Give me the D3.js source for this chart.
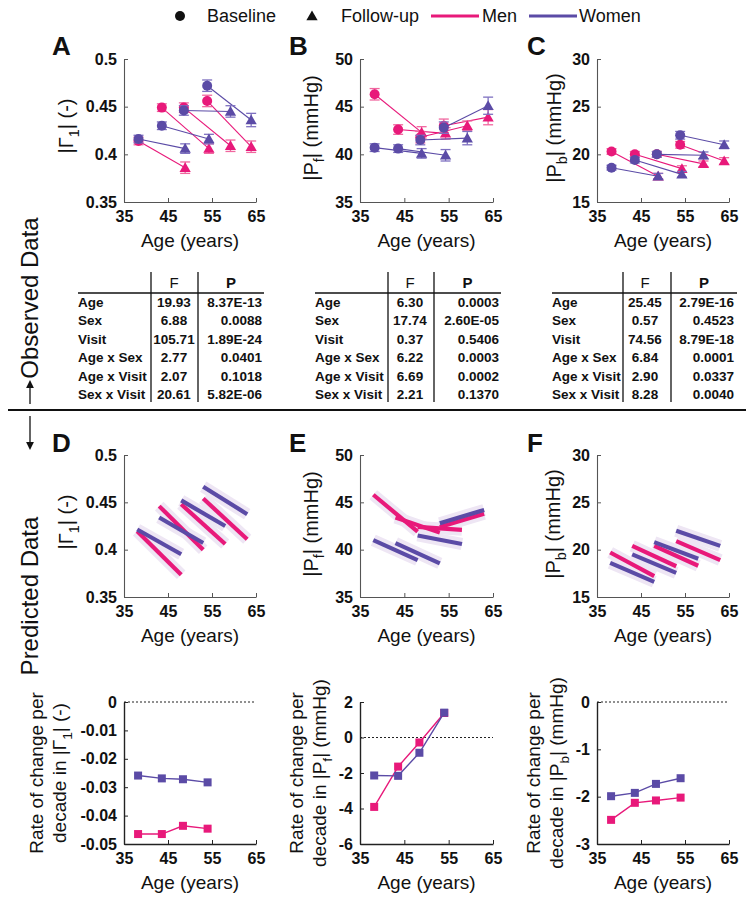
<!DOCTYPE html>
<html><head><meta charset="utf-8">
<script src="https://cdn.jsdelivr.net/npm/d3@7"></script>
<style>body{margin:0;background:#fff} svg{display:block} text{font-family:"Liberation Sans",Arial,sans-serif;fill:#111}</style>
</head><body><svg id="c" width="750" height="900"></svg>
<script>
// ---------- DATA ----------
const baseAge = [38.3, 43.6, 48.6, 53.9];
const fuAge   = [48.9, 54.3, 59.2, 63.9];

// Panel A  |Γ1|
const A_menBase = [0.414, 0.449, 0.449, 0.456];
const A_menFu   = [0.386, 0.406, 0.409, 0.408];
const A_womBase = [0.416, 0.430, 0.446, 0.472];
const A_womFu   = [0.406, 0.416, 0.445, 0.436];
const A_menBaseErr = [0.004, 0.004, 0.005, 0.006];
const A_menFuErr   = [0.006, 0.005, 0.006, 0.006];
const A_womBaseErr = [0.004, 0.004, 0.005, 0.006];
const A_womFuErr   = [0.005, 0.005, 0.006, 0.007];

// Panel B  |Pf|
const B_menBase = [46.3, 42.6, 41.8, 43.0];
const B_menFu   = [42.3, 42.2, 43.0, 43.9];
const B_womBase = [40.7, 40.6, 41.5, 42.8];
const B_womFu   = [40.1, 39.9, 41.7, 45.1];
const B_menBaseErr = [0.6, 0.5, 0.6, 0.7];
const B_menFuErr   = [0.6, 0.6, 0.5, 0.8];
const B_womBaseErr = [0.4, 0.4, 0.5, 0.6];
const B_womFuErr   = [0.5, 0.6, 0.7, 0.9];

// Panel C  |Pb|
const C_menBase = [20.3, 20.0, 20.0, 21.0];
const C_menFu   = [17.7, 18.5, 19.0, 19.3];
const C_womBase = [18.6, 19.4, 20.0, 22.0];
const C_womFu   = [17.7, 17.9, 19.9, 21.0];
const C_menBaseErr = [0.3, 0.3, 0.3, 0.35];
const C_menFuErr   = [0.3, 0.3, 0.3, 0.35];
const C_womBaseErr = [0.25, 0.3, 0.3, 0.4];
const C_womFuErr   = [0.3, 0.3, 0.35, 0.4];

// Predicted lines (D, E, F)
const predStart = [38, 43, 48, 53];
const predEnd   = [48, 53, 58, 63];
const D_menStart = [0.4195, 0.446, 0.448, 0.454];
const D_menEnd   = [0.3735, 0.400, 0.406, 0.411];
const D_womStart = [0.4213, 0.434, 0.452, 0.4665];
const D_womEnd   = [0.3952, 0.407, 0.425, 0.4375];
const E_menStart = [45.8, 43.4, 42.4, 42.4];
const E_menEnd   = [41.9, 41.8, 42.1, 43.8];
const E_womStart = [41.0, 40.7, 41.5, 42.8];
const E_womEnd   = [38.9, 38.55, 40.6, 44.2];
const F_menStart = [19.7, 20.4, 20.4, 20.9];
const F_menEnd   = [17.2, 18.25, 18.3, 18.9];
const F_womStart = [18.6, 19.5, 20.8, 22.0];
const F_womEnd   = [16.6, 17.55, 19.05, 20.4];

// Rates of change per decade
const rateAge = [38.2, 43.6, 48.4, 54.0];
const G_men = [-0.0465, -0.0465, -0.0436, -0.0446];
const G_wom = [-0.0259, -0.0269, -0.0272, -0.0283];
const H_men = [-3.91, -1.64, -0.28, 1.38];
const H_wom = [-2.14, -2.16, -0.86, 1.40];
const I_men = [-2.49, -2.13, -2.08, -2.02];
const I_wom = [-1.99, -1.92, -1.73, -1.61];

// Tick labels
const xTicks = [35, 45, 55, 65];
const ticksA = [0.35, 0.4, 0.45, 0.5];
const ticksB = [35, 40, 45, 50];
const ticksC = [15, 20, 25, 30];
const ticksG = [-0.05, -0.04, -0.03, -0.02, -0.01, 0];
const ticksH = [-6, -4, -2, 0, 2];
const ticksI = [-3, -2, -1, 0];

// Tables
const tableRows = ["Age", "Sex", "Visit", "Age x Sex", "Age x Visit", "Sex x Visit"];
const tA_F = ["19.93", "6.88", "105.71", "2.77", "2.07", "20.61"];
const tA_P = ["8.37E-13", "0.0088", "1.89E-24", "0.0401", "0.1018", "5.82E-06"];
const tB_F = ["6.30", "17.74", "0.37", "6.22", "6.69", "2.21"];
const tB_P = ["0.0003", "2.60E-05", "0.5406", "0.0003", "0.0002", "0.1370"];
const tC_F = ["25.45", "0.57", "74.56", "6.84", "2.90", "8.28"];
const tC_P = ["2.79E-16", "0.4523", "8.79E-18", "0.0001", "0.0337", "0.0040"];

// ---------- STYLE / LAYOUT ----------
const MEN = "#E8197A", WOMEN = "#5B4BA6";
const MEN_ERR = "#F0679F", WOM_ERR = "#7E70C0";
const cols = [{x0:124, x1:256}, {x0:360, x1:493}, {x0:597, x1:729}];
const rows = [{top:59, bot:202}, {top:455, bot:597}, {top:702, bot:844}];

const svg = d3.select("#c");
svg.append("rect").attr("width",750).attr("height",900).attr("fill","#fff");

function makeAxes(ci, ri, yDom, yTicks, darkAxis) {
  const c = cols[ci], r = rows[ri];
  const x = d3.scaleLinear().domain([35,65]).range([c.x0, c.x1]);
  const y = d3.scaleLinear().domain(yDom).range([r.bot, r.top]);
  const g = svg.append("g");
  const col = darkAxis ? "#222" : "#555";
  const ax = g.append("g").attr("transform",`translate(0,${r.bot})`)
    .call(d3.axisBottom(x).tickValues(xTicks).tickSize(-4).tickSizeOuter(0).tickPadding(9).tickFormat(d=>String(d)));
  const ay = g.append("g").attr("transform",`translate(${c.x0},0)`)
    .call(d3.axisLeft(y).tickValues(yTicks).tickSize(-4).tickSizeOuter(0).tickPadding(7).tickFormat(d=>String(d)));
  [ax, ay].forEach(a=>{
    a.select(".domain").attr("stroke",col).attr("stroke-width", darkAxis?1.4:1.1);
    a.selectAll(".tick line").attr("stroke",col);
    a.selectAll(".tick text").attr("font-size",16).attr("font-weight","bold").attr("fill","#111")
      .style("font-family","'Liberation Sans',Arial,sans-serif");
  });
  g.append("text").attr("x",(c.x0+c.x1)/2).attr("y",r.bot+45).attr("text-anchor","middle")
    .attr("font-size",19).text("Age (years)");
  return {x, y, g};
}

function rotLabel(x, y, lines, fs) {
  lines.forEach((segs, li) => {
    const t = svg.append("text").attr("transform",`translate(${x + li*23},${y}) rotate(-90)`)
      .attr("text-anchor","middle").attr("font-size",fs);
    segs.forEach(s => {
      const ts = t.append("tspan").text(s.t);
      if (s.sub) ts.attr("dy", fs*0.3).attr("font-size", fs*0.72);
      if (s.back) ts.attr("dy", -fs*0.3);
    });
  });
}
function panelLetter(x, y, L) {
  svg.append("text").attr("x",x).attr("y",y).attr("font-size",26).attr("font-weight","bold").text(L);
}

const triangle = d3.symbol().type(d3.symbolTriangle).size(55);

function observed(ax, mB, mF, wB, wF, mBe, mFe, wBe, wFe) {
  const {x, y, g} = ax;
  const series = [
    {b:mB, f:mF, be:mBe, fe:mFe, c:MEN, ec:MEN_ERR},
    {b:wB, f:wF, be:wBe, fe:wFe, c:WOMEN, ec:WOM_ERR}
  ];
  series.forEach(s => {
    const sg = g.append("g");
    baseAge.forEach((a,i) => {
      sg.append("line").attr("x1",x(a)).attr("y1",y(s.b[i])).attr("x2",x(fuAge[i])).attr("y2",y(s.f[i]))
        .attr("stroke",s.c).attr("stroke-width",1.1);
    });
    const eb = (a, v, e) => {
      sg.append("line").attr("x1",x(a)).attr("x2",x(a)).attr("y1",y(v-e)).attr("y2",y(v+e)).attr("stroke",s.ec).attr("stroke-width",1.3);
      [v-e, v+e].forEach(vv => sg.append("line").attr("x1",x(a)-5).attr("x2",x(a)+5).attr("y1",y(vv)).attr("y2",y(vv)).attr("stroke",s.ec).attr("stroke-width",1.3));
    };
    baseAge.forEach((a,i) => eb(a, s.b[i], s.be[i]));
    fuAge.forEach((a,i) => eb(a, s.f[i], s.fe[i]));
    baseAge.forEach((a,i) => sg.append("circle").attr("cx",x(a)).attr("cy",y(s.b[i])).attr("r",5).attr("fill",s.c));
    fuAge.forEach((a,i) => sg.append("path").attr("d",triangle).attr("transform",`translate(${x(a)},${y(s.f[i])+1})`).attr("fill",s.c));
  });
}

function predicted(ax, mS, mE, wS, wE) {
  const {x, y, g} = ax;
  const band = g.append("g"), lines = g.append("g");
  [[mS,mE,MEN],[wS,wE,WOMEN]].forEach(([s,e]) => {
    predStart.forEach((a,i) => band.append("line").attr("x1",x(a)).attr("y1",y(s[i])).attr("x2",x(predEnd[i])).attr("y2",y(e[i]))
      .attr("stroke","#EEE6F4").attr("stroke-width",12).attr("stroke-linecap","butt"));
  });
  [[mS,mE,MEN],[wS,wE,WOMEN]].forEach(([s,e,c]) => {
    predStart.forEach((a,i) => lines.append("line").attr("x1",x(a)).attr("y1",y(s[i])).attr("x2",x(predEnd[i])).attr("y2",y(e[i]))
      .attr("stroke",c).attr("stroke-width",4.2));
  });
}

function rates(ax, men, wom) {
  const {x, y, g} = ax;
  g.append("line").attr("x1",x(35)).attr("x2",x(65)).attr("y1",y(0)).attr("y2",y(0))
    .attr("stroke","#222").attr("stroke-width",1.2).attr("stroke-dasharray","2,2");
  [[men,MEN],[wom,WOMEN]].forEach(([v,c]) => {
    const line = d3.line().x((d,i)=>x(rateAge[i])).y(d=>y(d));
    g.append("path").attr("d",line(v)).attr("fill","none").attr("stroke",c).attr("stroke-width",1.4);
    v.forEach((d,i)=>g.append("rect").attr("x",x(rateAge[i])-4).attr("y",y(d)-4).attr("width",8).attr("height",8).attr("fill",c));
  });
}

function table(x0, xv1, xv2, xr, fCenter, pRight, Fv, Pv) {
  const g = svg.append("g").attr("font-size",13.5).attr("font-weight","bold");
  const hy = 288, lineY = 293, rowY0 = 307, dy = 18.4;
  g.append("text").attr("x",fCenter).attr("y",hy).attr("text-anchor","middle").attr("font-size",15).attr("font-weight","normal").text("F");
  g.append("text").attr("x",(xv2+xr)/2).attr("y",hy).attr("text-anchor","middle").attr("font-size",15).text("P");
  g.append("line").attr("x1",x0).attr("x2",xr).attr("y1",lineY).attr("y2",lineY).attr("stroke","#111").attr("stroke-width",1.3);
  [xv1, xv2].forEach(xv => g.append("line").attr("x1",xv).attr("x2",xv).attr("y1",272).attr("y2",402).attr("stroke","#111").attr("stroke-width",1.3));
  tableRows.forEach((r,i) => {
    const yy = rowY0 + i*dy;
    g.append("text").attr("x",x0).attr("y",yy).text(r);
    g.append("text").attr("x",fCenter).attr("y",yy).attr("text-anchor","middle").text(Fv[i]);
    g.append("text").attr("x",pRight).attr("y",yy).attr("text-anchor","end").text(Pv[i]);
  });
}

// ---------- LEGEND ----------
const lg = svg.append("g");
lg.append("circle").attr("cx",180).attr("cy",16).attr("r",5).attr("fill","#111");
lg.append("text").attr("x",207).attr("y",22).attr("font-size",18).text("Baseline");
lg.append("path").attr("d",triangle).attr("transform","translate(312,17)").attr("fill","#111");
lg.append("text").attr("x",341).attr("y",22).attr("font-size",18).text("Follow-up");
lg.append("line").attr("x1",431).attr("x2",479).attr("y1",16).attr("y2",16).attr("stroke",MEN).attr("stroke-width",3);
lg.append("text").attr("x",482).attr("y",22).attr("font-size",18).text("Men");
lg.append("line").attr("x1",529).attr("x2",577).attr("y1",16).attr("y2",16).attr("stroke",WOMEN).attr("stroke-width",3);
lg.append("text").attr("x",579).attr("y",22).attr("font-size",18).text("Women");

// ---------- PANELS ----------
const axA = makeAxes(0,0,[0.35,0.5],ticksA,false);
observed(axA, A_menBase, A_menFu, A_womBase, A_womFu, A_menBaseErr, A_menFuErr, A_womBaseErr, A_womFuErr);
const axB = makeAxes(1,0,[35,50],ticksB,false);
observed(axB, B_menBase, B_menFu, B_womBase, B_womFu, B_menBaseErr, B_menFuErr, B_womBaseErr, B_womFuErr);
const axC = makeAxes(2,0,[15,30],ticksC,false);
observed(axC, C_menBase, C_menFu, C_womBase, C_womFu, C_menBaseErr, C_menFuErr, C_womBaseErr, C_womFuErr);

const axD = makeAxes(0,1,[0.35,0.5],ticksA,false);
predicted(axD, D_menStart, D_menEnd, D_womStart, D_womEnd);
const axE = makeAxes(1,1,[35,50],ticksB,false);
predicted(axE, E_menStart, E_menEnd, E_womStart, E_womEnd);
const axF = makeAxes(2,1,[15,30],ticksC,false);
predicted(axF, F_menStart, F_menEnd, F_womStart, F_womEnd);

const axG = makeAxes(0,2,[-0.05,0],ticksG,true);
rates(axG, G_men, G_wom);
const axH = makeAxes(1,2,[-6,2],ticksH,true);
rates(axH, H_men, H_wom);
const axI = makeAxes(2,2,[-3,0],ticksI,true);
rates(axI, I_men, I_wom);

// letters
panelLetter(52,55,"A"); panelLetter(289,55,"B"); panelLetter(527,55,"C");
panelLetter(52,452,"D"); panelLetter(289,452,"E"); panelLetter(527,452,"F");

// y labels
const G1 = [{t:"|Γ"},{t:"1",sub:true},{t:"| (-)",back:true}];
const PF = [{t:"|P"},{t:"f",sub:true},{t:"| (mmHg)",back:true}];
const PB = [{t:"|P"},{t:"b",sub:true},{t:"| (mmHg)",back:true}];
rotLabel(73,126,[G1],20); rotLabel(318,128,[PF],20); rotLabel(561,128,[PB],20);
rotLabel(73,522,[G1],20); rotLabel(318,524,[PF],20); rotLabel(560,524,[PB],20);
rotLabel(43,773,[[{t:"Rate of change per"}],[{t:"decade in |Γ"},{t:"1",sub:true},{t:"| (-)",back:true}]],19);
rotLabel(303,773,[[{t:"Rate of change per"}],[{t:"decade in |P"},{t:"f",sub:true},{t:"| (mmHg)",back:true}]],19);
rotLabel(540,773,[[{t:"Rate of change per"}],[{t:"decade in |P"},{t:"b",sub:true},{t:"| (mmHg)",back:true}]],19);

// tables
table(78, 151, 198, 264, 174, 262, tA_F, tA_P);
table(315, 388, 434, 501, 410, 499, tB_F, tB_P);
table(552, 623, 671, 737, 645, 734, tC_F, tC_P);

// separator & section labels
svg.append("line").attr("x1",8).attr("x2",746).attr("y1",410).attr("y2",410).attr("stroke","#111").attr("stroke-width",2);
svg.append("defs").append("marker").attr("id","ah").attr("viewBox","0 0 10 10").attr("refX",5).attr("refY",5)
  .attr("markerWidth",6).attr("markerHeight",6).attr("orient","auto-start-reverse")
  .append("path").attr("d","M0,0L10,5L0,10z").attr("fill","#111");
svg.append("line").attr("x1",30).attr("x2",30).attr("y1",404).attr("y2",384).attr("stroke","#111").attr("stroke-width",1.3).attr("marker-end","url(#ah)");
svg.append("line").attr("x1",30).attr("x2",30).attr("y1",416).attr("y2",446).attr("stroke","#111").attr("stroke-width",1.3).attr("marker-end","url(#ah)");
svg.append("text").attr("transform","translate(38,298) rotate(-90)").attr("text-anchor","middle").attr("font-size",24).text("Observed Data");
svg.append("text").attr("transform","translate(38,596) rotate(-90)").attr("text-anchor","middle").attr("font-size",24).text("Predicted Data");
</script>
</body></html>
